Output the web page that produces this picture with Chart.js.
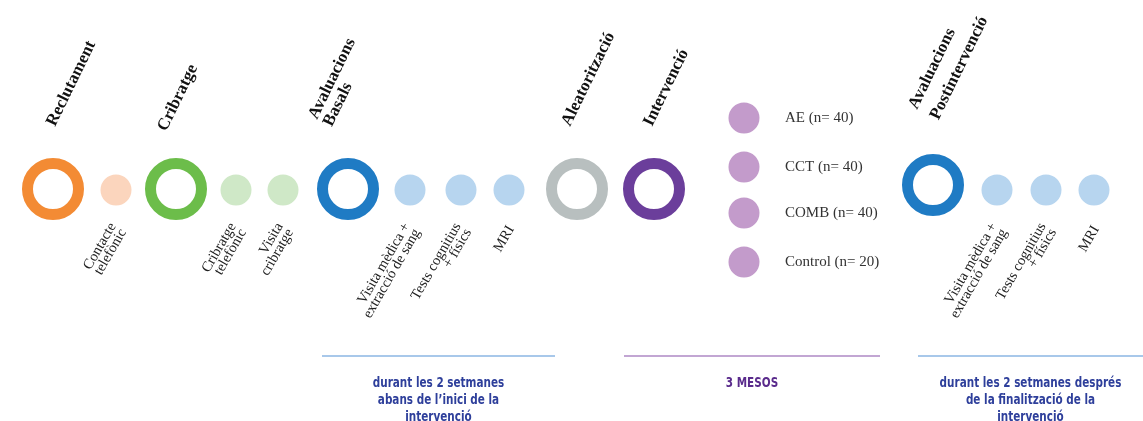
<!DOCTYPE html>
<html>
<head>
<meta charset="utf-8">
<script src="https://cdn.jsdelivr.net/npm/chart.js@4/dist/chart.umd.min.js"></script>
<style>
  html, body { margin: 0; padding: 0; background: #fff; }
  canvas { display: block; }
</style>
</head>
<body>
<canvas id="timeline" width="1143" height="421"></canvas>
<script>
// timeline stages (big rings)
const stageLabels = ['Reclutament', 'Cribratge', 'Avaluacions\nBasals', 'Aleatorització', 'Intervenció', 'Avaluacions\nPostintervenció'];
const stagePos = [53, 176, 348, 577, 654, 933];
const stageLevel = [189, 189, 189, 189, 189, 185];

// sub steps (small dots)
const stepLabels = ['Contacte\ntelefònic', 'Cribratge\ntelefònic', 'Visita\ncribratge',
  'Visita mèdica +\nextracció de sang', 'Tests cognitius\n+ físics', 'MRI',
  'Visita mèdica +\nextracció de sang', 'Tests cognitius\n+ físics', 'MRI'];
const stepPos = [116, 236, 283, 410, 461, 509, 997, 1046, 1094];

// intervention groups
const groupLabels = ['AE (n= 40)', 'CCT (n= 40)', 'COMB (n= 40)', 'Control (n= 20)'];
const groupPos = 744;
const groupLevel = [118, 167, 213, 262];

// periods under the timeline
const periodLabels = [
  ['durant les 2 setmanes', 'abans de l\u2019inici de la', 'intervenció'],
  ['3 MESOS'],
  ['durant les 2 setmanes després', 'de la finalització de la', 'intervenció']
];
const periodStart = [322, 624, 918];
const periodEnd = [555, 880, 1143];

// styles
const ringColors = ['#f38b34', '#6cbd4a', '#1f7bc4', '#b8bfbf', '#6b3e9b', '#1f7bc4'];
const dotColors = ['#fbd5bd', '#cfe8c7', '#b7d5ef', '#c39bcb'];
const stepDot = [0, 1, 1, 2, 2, 2, 2, 2, 2];
const periodLine = ['#a8c8ea', '#c2a6d3', '#a8c8ea'];
const periodText = ['#2e3f9b', '#5a2b8c', '#2e3f9b'];
const headDx = [2, -10, -31, -7, -2, -16];
const headDy = [127, 132, 120, 127, 127, 110];
const headLh = [17, 17, 16.5, 17, 17, 24];

const serif = '"Liberation Serif", "Times New Roman", serif';
const narrow = '"Liberation Sans Narrow", "DejaVu Sans Condensed", "Arial Narrow", sans-serif';

function drawLines(ctx, lines, x, y, angle, align, baseline, lh, offset, sx) {
    ctx.save();
    ctx.translate(x, y);
    ctx.rotate(angle * Math.PI / 180);
    ctx.scale(sx || 1, 1);
    ctx.textAlign = align;
    ctx.textBaseline = baseline;
    lines.forEach((t, i) => ctx.fillText(t, 0, (i - offset * (lines.length - 1) / 2) * lh));
    ctx.restore();
}

const textPlugin = {
    id: 'timelineText',
    afterDatasetsDraw(chart) {
        const ctx = chart.ctx;
        const xs = chart.scales.x;
        const ys = chart.scales.y;

        // stage headings
        ctx.fillStyle = '#111';
        ctx.font = 'bold 17px ' + serif;
        stageLabels.forEach((label, i) => {
            const px = xs.getPixelForValue(stagePos[i] + headDx[i]);
            const py = ys.getPixelForValue(headDy[i]);
            drawLines(ctx, label.split('\n'), px, py, -64, 'left', 'alphabetic', headLh[i], 0);
        });

        // step labels
        ctx.fillStyle = '#222';
        ctx.font = '14.5px ' + serif;
        stepLabels.forEach((label, i) => {
            const px = xs.getPixelForValue(stepPos[i] + 2);
            const py = ys.getPixelForValue(227);
            drawLines(ctx, label.split('\n'), px, py, -60, 'right', 'middle', 12, 1);
        });

        // group labels
        ctx.fillStyle = '#333';
        ctx.font = '15px ' + serif;
        groupLabels.forEach((label, i) => {
            const px = xs.getPixelForValue(groupPos + 41);
            const py = ys.getPixelForValue(groupLevel[i]);
            drawLines(ctx, [label], px, py, 0, 'left', 'middle', 0, 0);
        });

        // period texts
        ctx.font = 'bold 14.5px ' + narrow;
        periodLabels.forEach((lines, i) => {
            ctx.fillStyle = periodText[i];
            const px = xs.getPixelForValue((periodStart[i] + periodEnd[i]) / 2);
            lines.forEach((t, j) => {
                const py = ys.getPixelForValue(383 + j * 17);
                drawLines(ctx, [t], px, py, 0, 'center', 'middle', 0, 0, 0.8);
            });
        });
    }
};

const datasets = [];

// big rings
datasets.push({
    data: stagePos.map((x, i) => ({ x: x, y: stageLevel[i] })),
    pointRadius: 25.5,
    pointHoverRadius: 25.5,
    pointBorderWidth: 11,
    pointHoverBorderWidth: 11,
    pointBackgroundColor: '#fff',
    pointBorderColor: ringColors,
    showLine: false
});

// small step dots
datasets.push({
    data: stepPos.map(x => ({ x: x, y: 190 })),
    pointRadius: 15.5,
    pointHoverRadius: 15.5,
    pointBorderWidth: 0,
    pointBackgroundColor: stepDot.map(d => dotColors[d]),
    showLine: false
});

// group dots
datasets.push({
    data: groupLevel.map(y => ({ x: groupPos, y: y })),
    pointRadius: 15.5,
    pointHoverRadius: 15.5,
    pointBorderWidth: 0,
    pointBackgroundColor: dotColors[3],
    showLine: false
});

// period lines
periodStart.forEach((s, i) => {
    datasets.push({
        data: [{ x: s, y: 356 }, { x: periodEnd[i], y: 356 }],
        showLine: true,
        borderColor: periodLine[i],
        borderWidth: 2,
        pointRadius: 0
    });
});

new Chart(document.getElementById('timeline'), {
    type: 'scatter',
    data: { datasets: datasets },
    options: {
        responsive: false,
        animation: false,
        events: [],
        clip: false,
        layout: { padding: 0, autoPadding: false },
        plugins: {
            legend: { display: false },
            tooltip: { enabled: false }
        },
        scales: {
            x: { type: 'linear', min: 0, max: 1143, display: false },
            y: { type: 'linear', min: 0, max: 421, reverse: true, display: false }
        }
    },
    plugins: [textPlugin]
});
</script>
</body>
</html>
